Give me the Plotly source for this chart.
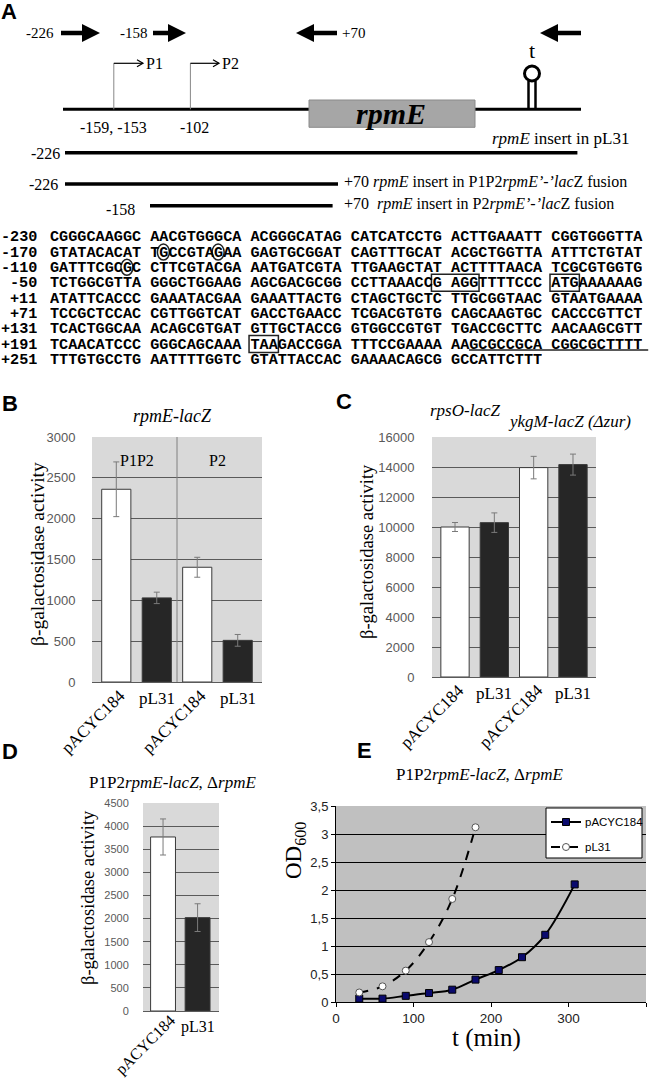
import plotly.graph_objects as go

W, H = 657, 1078


def px(x):
    return x / W


def py(y):
    return 1 - y / H


SERIF = "Liberation Serif"
SANS = "Liberation Sans"
MONO = "Liberation Mono"

# ---------------- data ----------------
# Panel B : rpmE-lacZ
b_labels = ["pACYC184", "pL31", "pACYC184", "pL31"]
b_values = [2360, 1030, 1405, 510]
b_errors = [335, 70, 122, 72]
b_groups = ["P1P2", "P2"]

# Panel C : rpsO-lacZ / ykgM-lacZ
c_labels = ["pACYC184", "pL31", "pACYC184", "pL31"]
c_values = [10000, 10290, 13960, 14160]
c_errors = [300, 650, 750, 700]

# Panel D : P1P2rpmE-lacZ, ΔrpmE
d_labels = ["pACYC184", "pL31"]
d_values = [3765, 2020]
d_errors = [390, 300]

# Panel E : growth curves
e_series = ["pACYC184", "pL31"]
e_time_pacyc = [30, 60, 90, 120, 150, 180, 210, 240, 270, 308]
e_od_pacyc = [0.06, 0.06, 0.11, 0.16, 0.22, 0.40, 0.57, 0.80, 1.20, 2.10]
e_time_pl31 = [30, 60, 90, 120, 150, 180]
e_od_pl31 = [0.17, 0.28, 0.56, 1.07, 1.84, 3.12]
e_yticks = [0, 0.5, 1, 1.5, 2, 2.5, 3, 3.5]
e_yticktext = ["0", "0,5", "1", "1,5", "2", "2,5", "3", "3,5"]
e_xticks = [0, 100, 200, 300, 400]

# Panel A : sequence
seq_labels = ["-230", "-170", "-110", "-50", "+11", "+71", "+131", "+191", "+251"]
seq_rows = [
    "CGGGCAAGGC AACGTGGGCA ACGGGCATAG CATCATCCTG ACTTGAAATT CGGTGGGTTA",
    "GTATACACAT TGCCGTAGAA GAGTGCGGAT CAGTTTGCAT ACGCTGGTTA ATTTCTGTAT",
    "GATTTCGCGC CTTCGTACGA AATGATCGTA TTGAAGCTAT ACTTTTAACA TCGCGTGGTG",
    "TCTGGCGTTA GGGCTGGAAG AGCGACGCGG CCTTAAACCG AGGTTTTCCC ATGAAAAAAG",
    "ATATTCACCC GAAATACGAA GAAATTACTG CTAGCTGCTC TTGCGGTAAC GTAATGAAAA",
    "TCCGCTCCAC CGTTGGTCAT GACCTGAACC TCGACGTGTG CAGCAAGTGC CACCCGTTCT",
    "TCACTGGCAA ACAGCGTGAT GTTGCTACCG GTGGCCGTGT TGACCGCTTC AACAAGCGTT",
    "TCAACATCCC GGGCAGCAAA TAAGACCGGA TTTCCGAAAA AAGCGCCGCA CGGCGCTTTT",
    "TTTGTGCCTG AATTTTGGTC GTATTACCAC GAAAACAGCG GCCATTCTTT",
]
seq_circles = [(1, 12), (1, 18), (2, 8)]          # (row, char index)
seq_boxes = [(3, 42, 46), (3, 55, 57), (7, 22, 24)]  # (row, first, last)
seq_underline = (7, 46, 65)

# ---------------- figure ----------------
fig = go.Figure()
fills = ["white", "#262626"]


def colors(n):
    return [fills[i % 2] for i in range(n)]


def add_bars(vals, errs, xa, ya):
    fig.add_trace(go.Bar(
        x=list(range(len(vals))), y=vals, width=0.72,
        marker=dict(color=colors(len(vals)), line=dict(color="#3a3a3a", width=1)),
        error_y=dict(type="data", array=errs, color="#7a7a7a", thickness=1, width=3),
        xaxis=xa, yaxis=ya, showlegend=False, hoverinfo="skip"))


add_bars(b_values, b_errors, "x", "y")
add_bars(c_values, c_errors, "x2", "y2")
add_bars(d_values, d_errors, "x3", "y3")

E_LINE = [dict(color="black", width=2, shape="spline"),
          dict(color="black", width=2, dash="dash", shape="spline")]
E_MARK = [dict(symbol="square", size=7, color="#0a0a6e", line=dict(color="black", width=1)),
          dict(symbol="circle", size=7, color="white", line=dict(color="#555", width=1))]

fig.add_trace(go.Scatter(
    x=e_time_pacyc, y=e_od_pacyc, name=e_series[0], mode="lines+markers",
    line=E_LINE[0], marker=E_MARK[0], xaxis="x4", yaxis="y4", showlegend=False))
fig.add_trace(go.Scatter(
    x=e_time_pl31, y=e_od_pl31, name=e_series[1], mode="lines+markers",
    line=E_LINE[1], marker=E_MARK[1], xaxis="x4", yaxis="y4", showlegend=False))

GRID = "#5a5a5a"


def bar_yaxis(dom, rng, dt, fs, tl, anchor):
    return dict(domain=dom, range=rng, dtick=dt, tick0=0, anchor=anchor,
                automargin=False, tickformat="d",
                showgrid=True, gridcolor=GRID, gridwidth=1,
                zeroline=True, zerolinecolor=GRID, zerolinewidth=1,
                showline=False, ticks="outside", ticklen=tl,
                tickcolor="rgba(0,0,0,0)",
                tickfont=dict(family=SANS, size=fs, color="#595959"))


def bar_xaxis(dom, rng, anchor):
    return dict(domain=dom, range=rng, anchor=anchor, showticklabels=False,
                automargin=False,
                showgrid=False, zeroline=False, showline=False, ticks="")


fig.update_layout(
    width=W, height=H, autosize=False,
    margin=dict(l=0, r=0, t=0, b=0, pad=0),
    paper_bgcolor="white", plot_bgcolor="rgba(0,0,0,0)",
    xaxis=bar_xaxis([px(92), px(262)], [-0.6, 3.6], "y"),
    yaxis=bar_yaxis([py(682), py(437)], [0, 3000], 500, 13, 13, "x"),
    xaxis2=bar_xaxis([px(432), px(596)], [-0.585, 3.585], "y2"),
    yaxis2=bar_yaxis([py(677), py(437)], [0, 16000], 2000, 13, 14, "x2"),
    xaxis3=bar_xaxis([px(143), px(219)], [-0.58, 1.62], "y3"),
    yaxis3=bar_yaxis([py(1011), py(803)], [0, 4500], 500, 11, 11, "x3"),
    xaxis4=dict(domain=[px(336), px(646)], range=[0, 400], anchor="y4",
                automargin=False,
                tickvals=e_xticks, showgrid=False, zeroline=False,
                showline=True, linecolor="black", linewidth=1,
                ticks="outside", ticklen=4, tickcolor="black",
                tickfont=dict(family=SANS, size=13.5, color="#222")),
    yaxis4=dict(domain=[py(1002), py(806)], range=[0, 3.5], anchor="x4",
                automargin=False,
                tickvals=e_yticks, ticktext=e_yticktext,
                showgrid=True, gridcolor="black", gridwidth=1, zeroline=False,
                showline=True, linecolor="black", linewidth=1,
                ticks="outside", ticklen=4, tickcolor="black",
                tickfont=dict(family=SANS, size=13, color="#222")),
    showlegend=False,
    bargap=0,
)

shapes = []
annotations = []

# backgrounds
for xa, ya, col in [("x", "y", "#d9d9d9"), ("x2", "y2", "#d9d9d9"),
                    ("x3", "y3", "#d9d9d9"), ("x4", "y4", "#c0c0c0")]:
    shapes.append(dict(type="rect", xref=xa + " domain", yref=ya + " domain",
                       x0=0, x1=1, y0=0, y1=1, fillcolor=col,
                       line=dict(width=0), layer="below"))

# separator in B
shapes.append(dict(type="line", xref="x", yref="y", x0=1.5, x1=1.5, y0=0, y1=3000,
                   line=dict(color="#808080", width=1), layer="between"))


def text(x, y, t, size=16, family=SERIF, xanchor="center", yanchor="middle",
         angle=0, color="black", **kw):
    d = dict(x=px(x), y=py(y), xref="paper", yref="paper", text=t, showarrow=False,
             font=dict(family=family, size=size, color=color), xanchor=xanchor,
             yanchor=yanchor, textangle=angle, borderpad=0)
    d.update(kw)
    annotations.append(d)


# panel letters
for lab, x, y in [("A", 9, 12), ("B", 10, 403), ("C", 344, 402), ("D", 10, 752), ("E", 364, 750)]:
    text(x, y, "<b>" + lab + "</b>", size=22, family=SANS)

# bar category labels


def cat_labels(labels, xa, ybottom, fs=17, xs=14, ys=-2):
    for i, lab in enumerate(labels):
        if lab.startswith("pACYC"):
            annotations.append(dict(x=i, y=py(ybottom), xref=xa, yref="paper", text=lab,
                                    showarrow=False, textangle=-45, xanchor="right",
                                    yanchor="top", xshift=xs, yshift=ys, borderpad=0,
                                    font=dict(family=SERIF, size=fs, color="black")))
        else:
            annotations.append(dict(x=i, y=py(ybottom), xref=xa, yref="paper", text=lab,
                                    showarrow=False, xanchor="center", yanchor="top",
                                    yshift=-6, borderpad=0,
                                    font=dict(family=SERIF, size=fs, color="black")))


cat_labels(b_labels, "x", 682)
cat_labels(c_labels, "x2", 677)
cat_labels(d_labels, "x3", 1011, fs=16, xs=17, ys=1)

# group labels in B
for i, g in enumerate(b_groups):
    annotations.append(dict(x=0.5 + 2 * i, y=py(461), xref="x", yref="paper", text=g,
                            showarrow=False, font=dict(family=SERIF, size=16, color="black")))

# titles
text(172, 416, "<i>rpmE-lacZ</i>", size=18)
text(465, 410, "<i>rpsO-lacZ</i>", size=17)
text(569, 421, "<i>ykgM-lacZ (Δzur)</i>", size=17)
text(172.5, 782, "P1P2<i>rpmE-lacZ</i>, Δ<i>rpmE</i>", size=17)
text(479, 774, "P1P2<i>rpmE-lacZ</i>, Δ<i>rpmE</i>", size=17)

# axis titles
text(37, 554, "β-galactosidase activity", size=19.5, angle=-90)
text(367, 552, "β-galactosidase activity", size=18.5, angle=-90)
text(88, 898, "β-galactosidase activity", size=18.5, angle=-90)
text(295, 851, "OD<sub>600</sub>", size=23, angle=-90)
text(486, 1038, "t (min)", size=25)

# ---------------- panel A diagram ----------------


def P(x, y):
    return f"{px(x):.5f},{py(y):.5f}"


def arrow(x_tail, x_tip, y, head_len=18, head_half=9, shaft_half=2.2):
    d = 1 if x_tip > x_tail else -1
    xh = x_tip - d * head_len
    pts = [(x_tail, y - shaft_half), (xh, y - shaft_half), (xh, y - head_half), (x_tip, y),
           (xh, y + head_half), (xh, y + shaft_half), (x_tail, y + shaft_half)]
    return dict(type="path", xref="paper", yref="paper",
                path="M " + " L ".join(P(a, b) for a, b in pts) + " Z",
                fillcolor="black", line=dict(width=0))


def hline(x0, x1, y, w=3, color="black", dash=None):
    ln = dict(color=color, width=w)
    if dash:
        ln["dash"] = dash
    return dict(type="line", xref="paper", yref="paper", x0=px(x0), x1=px(x1),
                y0=py(y), y1=py(y), line=ln)


def vline(x, y0, y1, w=1, color="black"):
    return dict(type="line", xref="paper", yref="paper", x0=px(x), x1=px(x),
                y0=py(y0), y1=py(y1), line=dict(color=color, width=w))


shapes += [arrow(61, 100, 33), arrow(153, 186, 33), arrow(337, 296, 33), arrow(581, 540, 33)]
text(55, 33, "-226", size=15, xanchor="right")
text(149, 33, "-158", size=15, xanchor="right")
text(341, 33, "+70", size=15, xanchor="left")

# main line, gene box, terminator
shapes.append(hline(63, 581, 109.3, w=3))
shapes.append(dict(type="rect", xref="paper", yref="paper", x0=px(309), x1=px(475),
                   y0=py(127.3), y1=py(100), fillcolor="#a6a6a6",
                   line=dict(color="#8a8a8a", width=1)))
text(391, 113.5, "<b><i>rpmE</i></b>", size=30)
shapes.append(vline(528.5, 81, 109.3, w=2.5))
shapes.append(vline(535.5, 81, 109.3, w=2.5))
shapes.append(dict(type="circle", xref="paper", yref="paper", x0=px(524.5), x1=px(539.5),
                   y0=py(81), y1=py(66), fillcolor="white", line=dict(color="black", width=3)))
text(532, 51, "t", size=22)

# promoters
for xp, xe, lab in [(113.8, 143, "P1"), (190.4, 219, "P2")]:
    shapes.append(vline(xp, 63.3, 109.3, w=1, color="#888888"))
    shapes.append(hline(xp, xe, 63.3, w=1.2))
    shapes.append(dict(type="path", xref="paper", yref="paper",
                       path="M " + P(xe - 6, 59.8) + " L " + P(xe, 63.3) + " L " + P(xe - 6, 66.8),
                       line=dict(color="black", width=1.2)))
    text(xe + 1.5, 63.3, lab, size=16, xanchor="left")

text(113, 127, "-159, -153", size=16)
text(194, 127, "-102", size=16)

# inserts
text(630, 138, "<i>rpmE</i> insert in pL31", size=17, xanchor="right")
shapes.append(hline(65, 577.4, 152.7, w=3.5))
text(61, 153.5, "-226", size=16, xanchor="right")
shapes.append(hline(65, 338, 184, w=3.5))
text(59, 184.5, "-226", size=16, xanchor="right")
text(343, 182, "+70 <i>rpmE</i> insert in P1P2<i>rpmE’-’lac</i>Z fusion", size=16, xanchor="left")
shapes.append(hline(150, 332.6, 205.7, w=3.5))
text(136, 209, "-158", size=16, xanchor="right")
text(343, 204, "+70  <i>rpmE</i> insert in P2<i>rpmE’-’lac</i>Z fusion", size=16, xanchor="left")

# ---------------- sequence ----------------
SEQ_FS = 15.2
CW = 0.6 * SEQ_FS
SX0 = 49.4
ROW0 = 236.7
ROWH = 15.33
for r, (lab, row) in enumerate(zip(seq_labels, seq_rows)):
    y = ROW0 + r * ROWH
    text(38, y, "<b>" + lab + "</b>", size=SEQ_FS, family=MONO, xanchor="right", height=15)
    text(SX0, y, "<b>" + row + "</b>", size=SEQ_FS, family=MONO, xanchor="left", height=15)

for r, c in seq_circles:
    cx = SX0 + (c + 0.5) * CW
    cy = ROW0 + r * ROWH
    shapes.append(dict(type="circle", xref="paper", yref="paper",
                       x0=px(cx - 6), x1=px(cx + 6), y0=py(cy + 8), y1=py(cy - 8),
                       line=dict(color="#222", width=1.5)))
for r, c0, c1 in seq_boxes:
    cy = ROW0 + r * ROWH
    shapes.append(dict(type="rect", xref="paper", yref="paper",
                       x0=px(SX0 + c0 * CW - 1), x1=px(SX0 + (c1 + 1) * CW + 1),
                       y0=py(cy + 8.5), y1=py(cy - 8.5),
                       line=dict(color="#222", width=1.5)))
r, c0, c1 = seq_underline
shapes.append(hline(SX0 + c0 * CW, SX0 + c1 * CW + 6, ROW0 + r * ROWH + 6, w=1.3, color="#222"))

# ---------------- legend of panel E (box drawn in the plot) ----------------
LX0, LX1, LY0, LY1 = 546, 642, 808, 858
shapes.append(dict(type="rect", xref="paper", yref="paper", x0=px(LX0), x1=px(LX1),
                   y0=py(LY1), y1=py(LY0), fillcolor="white", line=dict(color="black", width=1)))
for k, name in enumerate(e_series):
    ly = 822 + 25 * k
    shapes.append(hline(551, 581, ly, w=2, color="black", dash="dash" if k else None))
    if k == 0:
        shapes.append(dict(type="rect", xref="paper", yref="paper", x0=px(562.5), x1=px(569.5),
                           y0=py(ly + 3.5), y1=py(ly - 3.5), fillcolor="#0a0a6e",
                           line=dict(color="black", width=1)))
    else:
        shapes.append(dict(type="circle", xref="paper", yref="paper", x0=px(562.5), x1=px(569.5),
                           y0=py(ly + 3.5), y1=py(ly - 3.5), fillcolor="white",
                           line=dict(color="#555", width=1)))
    text(584, ly, name, size=11.5, family=SANS, xanchor="left")

fig.update_layout(shapes=shapes, annotations=annotations)
fig.write_html(
    "out.html",
    config={"displayModeBar": False, "staticPlot": True},
    post_script="document.body.style.margin='0px';document.body.style.padding='0px';",
)
